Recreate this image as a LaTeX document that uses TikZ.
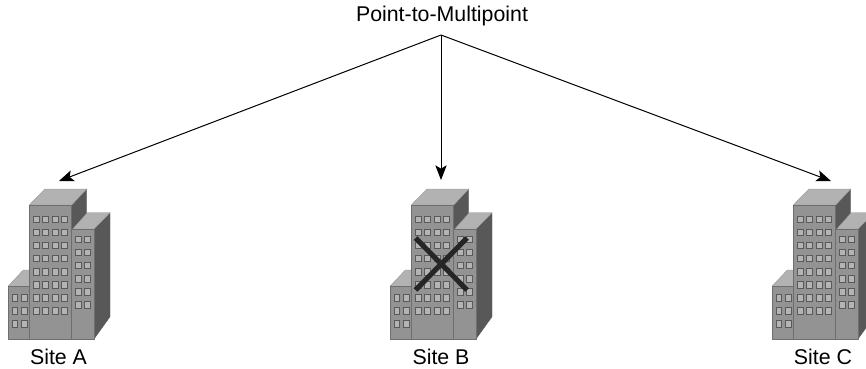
\documentclass[tikz,border=0pt]{standalone}
\usepackage{fontspec}
\setmainfont{Liberation Sans}
\usetikzlibrary{arrows.meta}
\definecolor{frontg}{HTML}{939393}
\definecolor{topg}{HTML}{B2B2B2}
\definecolor{sideg}{HTML}{585858}
\definecolor{wing}{HTML}{B4B4B4}
\definecolor{wedge}{HTML}{5A5A5A}
\tikzset{
  front/.style={fill=frontg,draw=frontg!75!black,line width=0.4pt,line join=round},
  roof/.style={fill=topg,draw=topg!85!black,line width=0.3pt,line join=round},
  flank/.style={fill=sideg,draw=sideg,line width=0.3pt,line join=round},
  winbox/.style={fill=wing,draw=wedge,line width=0.7pt},
  link/.style={draw=black,line width=0.75pt,-{Stealth[length=11pt,width=8.5pt,inset=2.5pt]}},
  cross/.style={draw=black!85,line width=3.8pt},
  lab/.style={font=\fontsize{16pt}{18pt}\selectfont,text=black,inner sep=0pt},
  pics/tower/.style={code={
    % rear tower
    \fill[flank] (71.7,205)--(86.7,189)--(86.7,230)--(71.7,230)--cycle;
    \fill[roof] (29.3,205)--(45,189)--(86.7,189)--(71.7,205)--cycle;
    % right wing
    \fill[flank] (94,229)--(110,212.7)--(110,316.7)--(94,339)--cycle;
    \fill[roof] (72.7,229)--(87.3,212.7)--(110,212.7)--(94,229)--cycle;
    \filldraw[front] (71.7,229)--(94,229)--(94,339)--(71.7,339)--cycle;
    % left annex
    \fill[roof] (8,286.3)--(23.3,270)--(30,270)--(30,286.3)--cycle;
    \filldraw[front] (8,286.3)--(29.3,286.3)--(29.3,339)--(8,339)--cycle;
    % main tower
    \filldraw[front] (29.3,205)--(71.7,205)--(71.7,339)--(29.3,339)--cycle;
    % windows
    \foreach \wx in {33.4,42.7,52,61.2}
      \foreach \wy in {216,229.1,242.2,255.3,268.4,281.5,294.6,307.7}
        \path[winbox] (\wx,\wy) rectangle ++(6,6.6);
    \foreach \wx in {75.1,84.4}
      \foreach \wy in {236,249.2,262.3,275.4,288.4,301.4}
        \path[winbox] (\wx,\wy) rectangle ++(6,6.6);
    \foreach \wx in {12.1,21.4}
      \foreach \wy in {294.7,307.7,320.7}
        \path[winbox] (\wx,\wy) rectangle ++(5.6,6.6);
  }}
}
\begin{document}
\begin{tikzpicture}[x=0.75pt,y=-0.75pt]
\useasboundingbox (0,0) rectangle (866,368);
\pic at (0,0) {tower};
\pic at (382,0) {tower};
\pic at (764,0) {tower};
\coordinate (hub) at (441,35);
\coordinate (endA) at (59,181);
\coordinate (endB) at (441,180);
\coordinate (endC) at (831,181);
\draw[link] (hub) -- (endA);
\draw[link] (hub) -- (endB);
\draw[link] (hub) -- (endC);
\coordinate (crossTL) at (415.5,238);
\coordinate (crossBR) at (467,290);
\coordinate (crossTR) at (467,238);
\coordinate (crossBL) at (415.5,290);
\draw[cross] (crossTL) -- (crossBR);
\draw[cross] (crossTR) -- (crossBL);
\node[lab] (title) at (442,15.5) {Point-to-Multipoint};
\node[lab] (siteA) at (58.5,357) {Site A};
\node[lab] (siteB) at (441,357) {Site B};
\node[lab] (siteC) at (823,357) {Site C};
\end{tikzpicture}
\end{document}
